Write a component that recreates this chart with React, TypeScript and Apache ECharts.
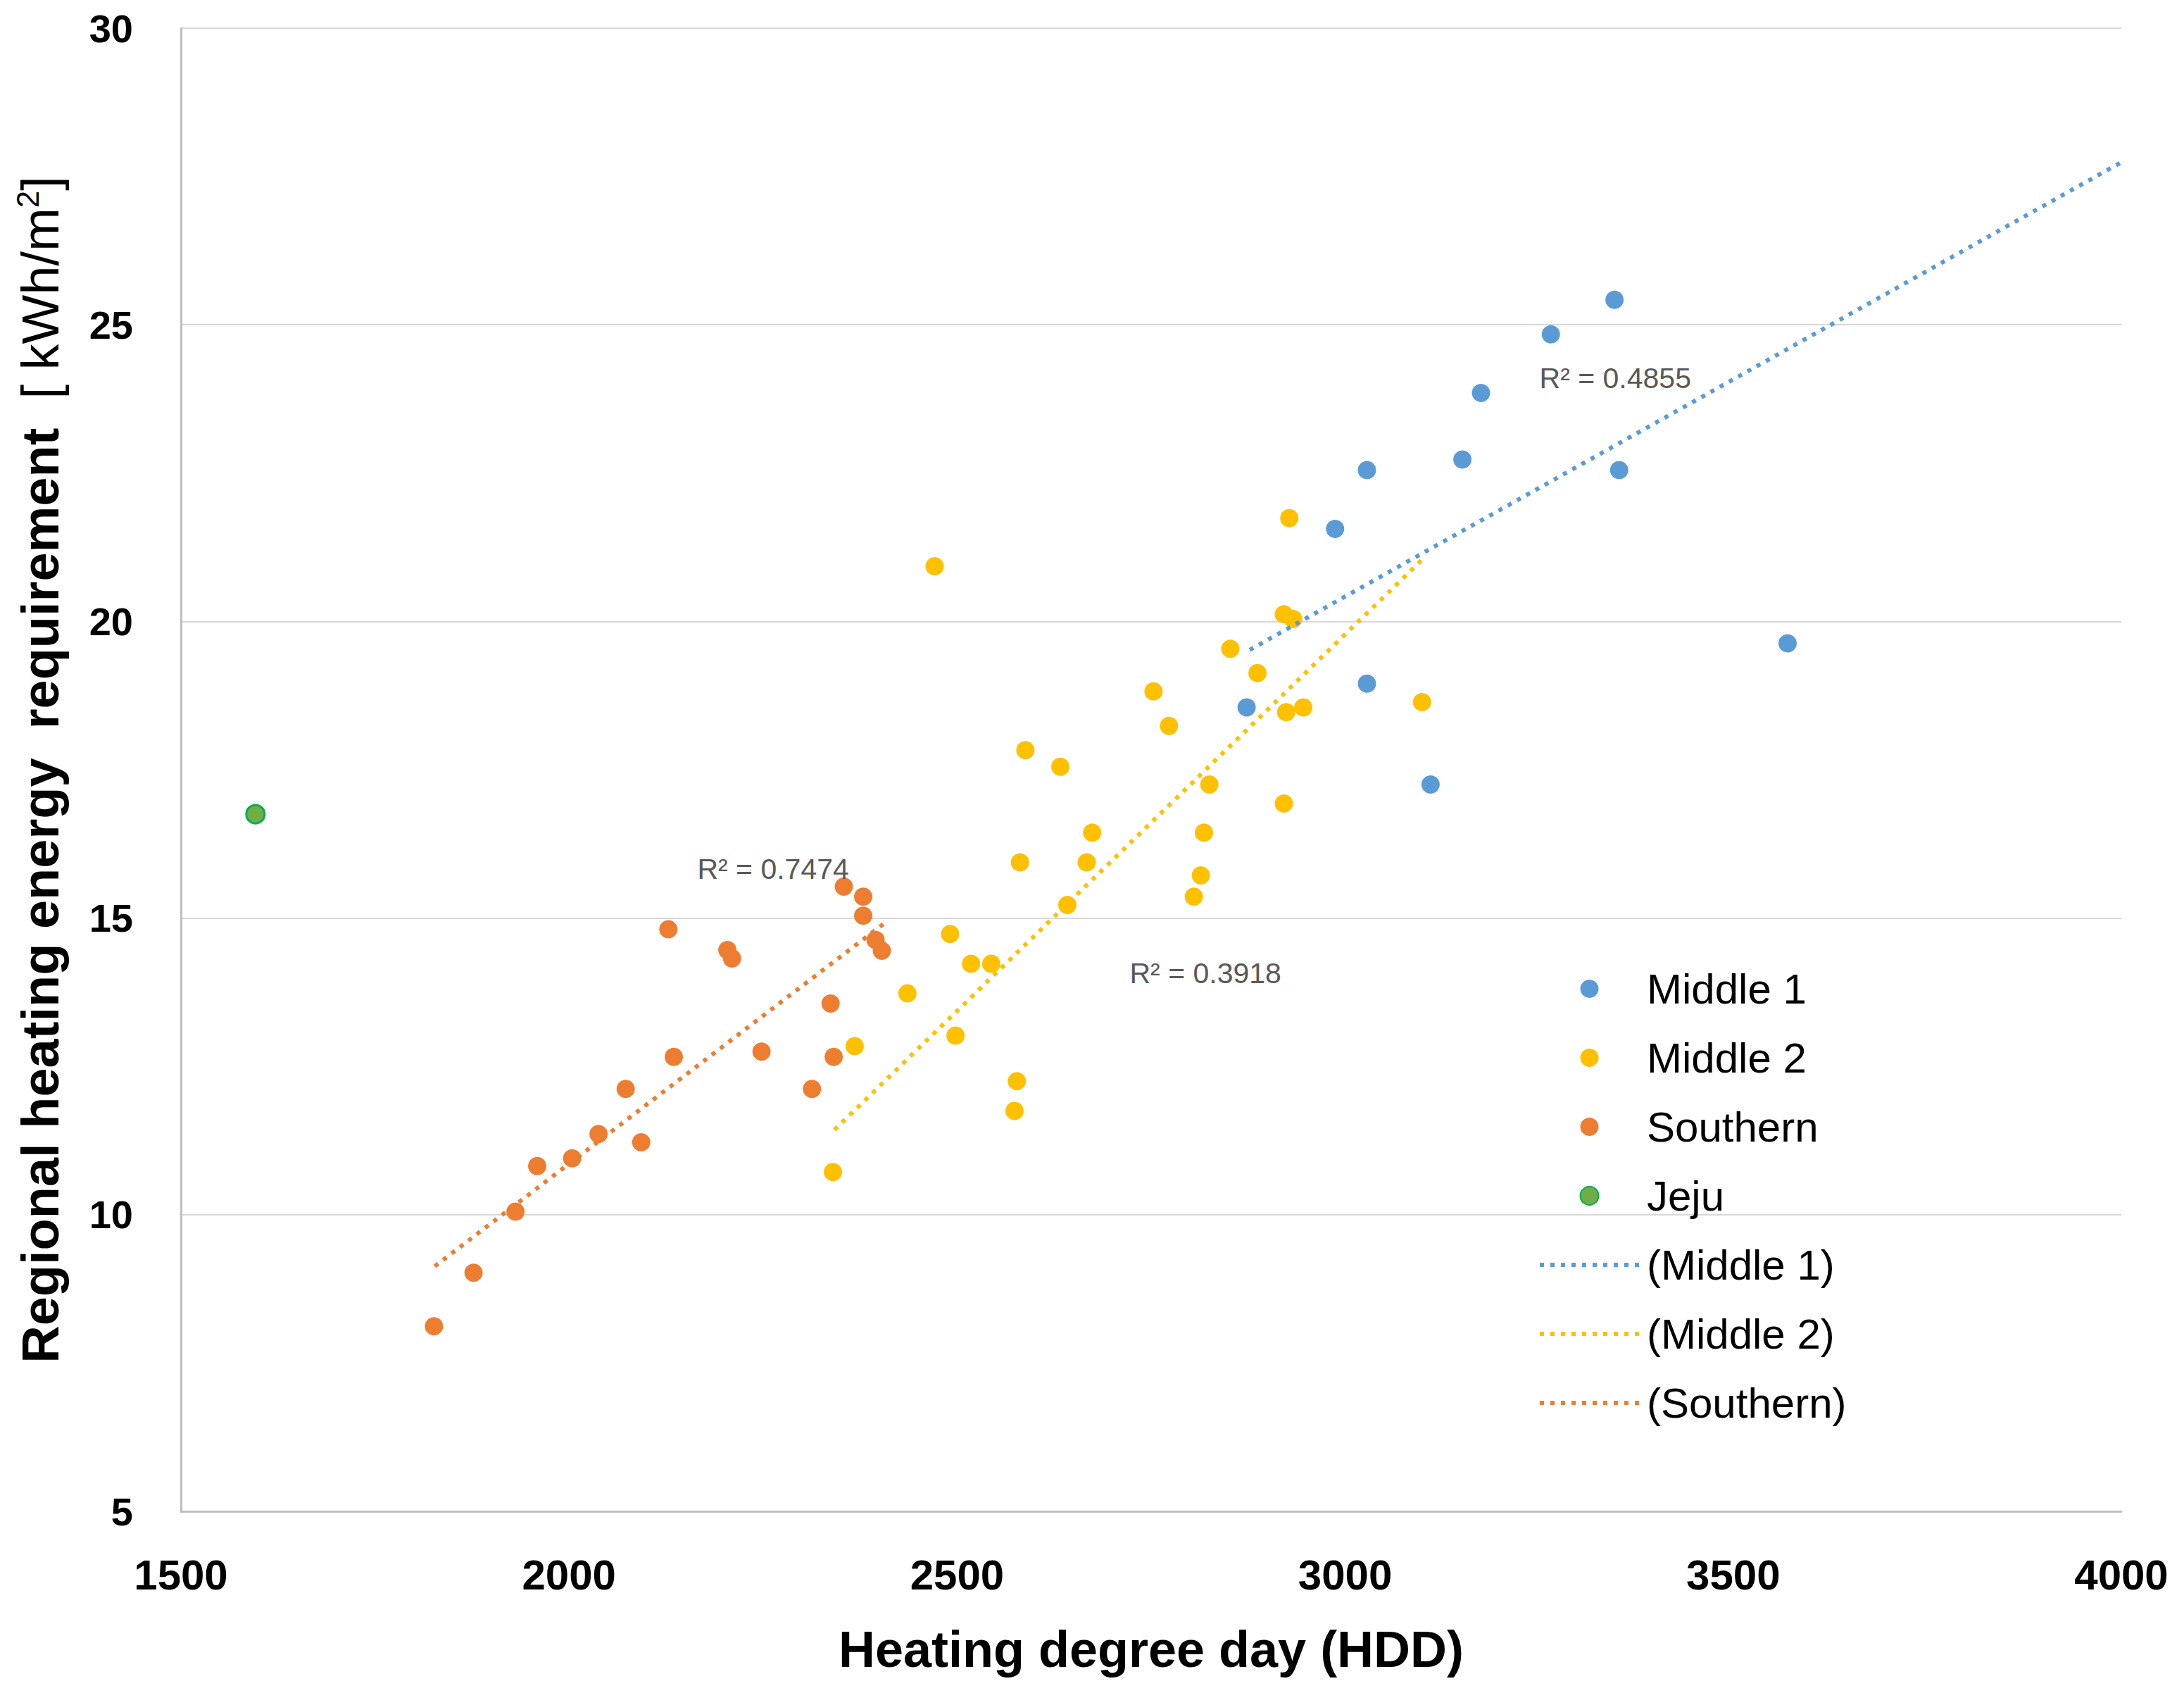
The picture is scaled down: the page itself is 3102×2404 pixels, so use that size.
import React, { useEffect, useRef } from "react";
import * as echarts from "echarts";

// ---- Data ----
const middle1X = [2873, 2987, 3028, 3028, 3110, 3151, 3175, 3265, 3347, 3353, 3570];
const middle1Y = [18.55, 21.56, 22.55, 18.95, 17.25, 22.73, 23.85, 24.84, 25.42, 22.55, 19.63];

const middle2X = [2471, 2928, 2921, 2933, 2852, 2887, 2753, 2773, 2924, 2946, 3099, 2588, 2633, 2825, 2921, 2674, 2818, 2581, 2667, 2814, 2805, 2642, 2491, 2518, 2544, 2436, 2498, 2368, 2577, 2574, 2340];
const middle2Y = [20.93, 21.74, 20.12, 20.04, 19.54, 19.13, 18.82, 18.24, 18.47, 18.55, 18.64, 17.83, 17.55, 17.25, 16.93, 16.44, 16.44, 15.94, 15.94, 15.72, 15.36, 15.22, 14.73, 14.23, 14.23, 13.73, 13.02, 12.84, 12.25, 11.75, 10.72];

const southernX = [2354, 2379, 2379, 2395, 2403, 2128, 2204, 2210, 2337, 2248, 2341, 2135, 2073, 2313, 2038, 2093, 2004, 1959, 1931, 1877, 1826];
const southernY = [15.53, 15.36, 15.04, 14.63, 14.45, 14.81, 14.46, 14.32, 13.56, 12.75, 12.66, 12.66, 12.12, 12.12, 11.36, 11.22, 10.95, 10.82, 10.05, 9.02, 8.12];

const jejuX = [1596];
const jejuY = [16.75];

// trend line end points [x, y]
const trendMiddle1 = [[2877, 19.52], [4000, 27.74]];
const trendMiddle2 = [[2342, 11.43], [3103, 21.09]];
const trendSouthern = [[1827, 9.13], [2409, 14.94]];

// R² labels: [x, y, text]
const r2Middle1: [number, number, string] = [3348, 24.1, "R² = 0.4855"];
const r2Middle2: [number, number, string] = [2820, 14.07, "R² = 0.3918"];
const r2Southern: [number, number, string] = [2263, 15.83, "R² = 0.7474"];

const xTicks = { min: 1500, max: 4000, interval: 500 };
const yTicks = { min: 5, max: 30, interval: 5 };

const pointNames = ["Middle 1", "Middle 2", "Southern", "Jeju"];
const trendNames = ["(Middle 1)", "(Middle 2)", "(Southern)"];

const BLUE = "#5B9BD5";
const YELLOW = "#FFC000";
const ORANGE = "#ED7D31";
const GREEN_FILL = "#70AD47";
const GREEN_BORDER = "#00B050";
const FONT = "Liberation Sans, Arial, sans-serif";
const trendColors = [BLUE, YELLOW, ORANGE];

const zip = (xs: number[], ys: number[]) => xs.map((x, i) => [x, ys[i]]);

const r2Mark = (lbl: [number, number, string]) => ({
  silent: true,
  symbol: "circle",
  symbolSize: 0,
  data: [
    {
      coord: [lbl[0], lbl[1]],
      label: {
        show: true,
        position: "inside",
        formatter: lbl[2],
        color: "#595959",
        fontSize: 41,
        fontFamily: FONT,
      },
    },
  ],
});

export default function App() {
  const ref = useRef<HTMLDivElement>(null);

  useEffect(() => {
    document.body.style.margin = "0";
    if (!ref.current) return;
    const chart = echarts.init(ref.current, undefined, { renderer: "svg" });

    const dotted = (color: string) => ({ color, width: 6, type: [6, 9] as number[] });

    chart.setOption({
      animation: false,
      backgroundColor: "#ffffff",
      grid: { left: 257, right: 89, top: 40, bottom: 258, containLabel: false },
      xAxis: {
        type: "value",
        min: xTicks.min,
        max: xTicks.max,
        interval: xTicks.interval,
        name: "Heating degree day (HDD)",
        nameLocation: "middle",
        nameGap: 160,
        nameTextStyle: { fontSize: 72, fontWeight: "bold", color: "#000", fontFamily: FONT },
        axisLine: { show: true, lineStyle: { color: "#BFBFBF", width: 3 } },
        axisTick: { show: false },
        splitLine: { show: false },
        axisLabel: {
          fontSize: 60,
          fontWeight: "bold",
          color: "#000",
          margin: 60,
          fontFamily: FONT,
          formatter: (v: number) => String(v),
        },
      },
      yAxis: {
        type: "value",
        min: yTicks.min,
        max: yTicks.max,
        interval: yTicks.interval,
        name:
          "{b|Regional heating energy\u00a0\u00a0requirement\u00a0\u00a0}{r|[ kWh/m}{s|2}{r|]}",
        nameLocation: "middle",
        nameRotate: 90,
        nameGap: 160,
        nameTextStyle: {
          color: "#000",
          fontFamily: FONT,
          rich: {
            b: { fontSize: 74, fontWeight: "bold", fontFamily: FONT, color: "#000", lineHeight: 80 },
            r: { fontSize: 74, fontWeight: "normal", fontFamily: FONT, color: "#000", lineHeight: 80 },
            s: { fontSize: 44, fontWeight: "normal", fontFamily: FONT, color: "#000", verticalAlign: "top", lineHeight: 80 },
          },
        },
        axisLine: { show: true, lineStyle: { color: "#BFBFBF", width: 3 } },
        axisTick: { show: false },
        splitLine: { show: true, lineStyle: { color: "#D9D9D9", width: 2 } },
        axisLabel: {
          fontSize: 56,
          fontWeight: "bold",
          color: "#000",
          margin: 68,
          fontFamily: FONT,
          formatter: (v: number) => String(v),
        },
      },
      legend: {
        show: true,
        orient: "vertical",
        left: 2179,
        top: 1369,
        itemWidth: 141,
        itemHeight: 26,
        itemGap: 38,
        data: [
          ...pointNames.map((n) => ({ name: n })),
          ...trendNames.map((n, i) => ({
            name: n,
            itemStyle: { opacity: 0 },
            lineStyle: { width: 6, type: [6, 9], color: trendColors[i], opacity: 1 },
          })),
        ],
        textStyle: { fontSize: 60, color: "#000", fontFamily: FONT, lineHeight: 60, padding: [0, 0, 0, 6] },
      },
      series: [
        {
          name: "Middle 1",
          type: "scatter",
          symbolSize: 26,
          itemStyle: { color: BLUE, opacity: 1 },
          data: zip(middle1X, middle1Y),
          z: 3,
        },
        {
          name: "Middle 2",
          type: "scatter",
          symbolSize: 26,
          itemStyle: { color: YELLOW, opacity: 1 },
          data: zip(middle2X, middle2Y),
          z: 3,
        },
        {
          name: "Southern",
          type: "scatter",
          symbolSize: 26,
          itemStyle: { color: ORANGE, opacity: 1 },
          data: zip(southernX, southernY),
          z: 3,
        },
        {
          name: "Jeju",
          type: "scatter",
          symbolSize: 26,
          itemStyle: { color: GREEN_FILL, borderColor: GREEN_BORDER, borderWidth: 3, opacity: 1 },
          data: zip(jejuX, jejuY),
          z: 3,
        },
        {
          name: trendNames[0],
          type: "line",
          symbol: "none",
          itemStyle: { color: BLUE },
          lineStyle: dotted(BLUE),
          data: trendMiddle1,
          z: 4,
          markPoint: r2Mark(r2Middle1),
        },
        {
          name: trendNames[1],
          type: "line",
          symbol: "none",
          itemStyle: { color: YELLOW },
          lineStyle: dotted(YELLOW),
          data: trendMiddle2,
          z: 4,
          markPoint: r2Mark(r2Middle2),
        },
        {
          name: trendNames[2],
          type: "line",
          symbol: "none",
          itemStyle: { color: ORANGE },
          lineStyle: dotted(ORANGE),
          data: trendSouthern,
          z: 4,
          markPoint: r2Mark(r2Southern),
        },
      ],
    });

    return () => {
      chart.dispose();
    };
  }, []);

  return (
    <div
      ref={ref}
      style={{ position: "absolute", left: 0, top: 0, width: 3102, height: 2404 }}
    />
  );
}
